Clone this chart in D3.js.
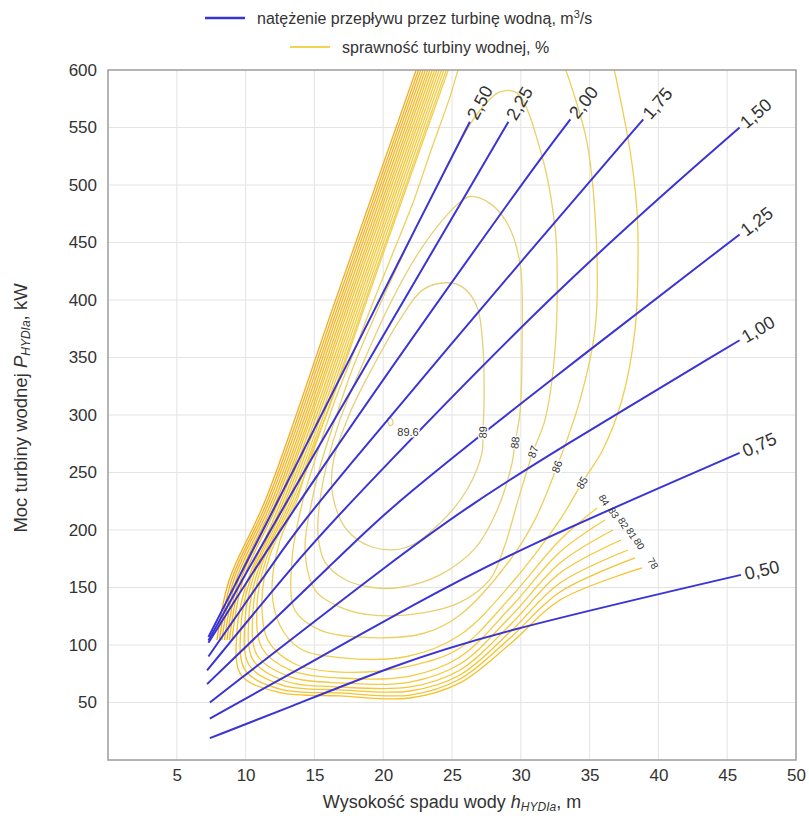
<!DOCTYPE html>
<html lang="pl">
<head>
<meta charset="utf-8">
<title>Moc turbiny wodnej</title>
<script src="https://cdn.jsdelivr.net/npm/d3@7/dist/d3.min.js"></script>
<style>
  html, body { margin: 0; padding: 0; background: #fff; }
  svg text { font-family: "Liberation Sans", Arial, Helvetica, sans-serif; fill: #333; }
</style>
</head>
<body>
<svg id="chart" width="809" height="819"></svg>
<script>
// ---- axis ticks ----
const xTicks = [5, 10, 15, 20, 25, 30, 35, 40, 45, 50];
const yTicks = [50, 100, 150, 200, 250, 300, 350, 400, 450, 500, 550, 600];

// ---- flow-rate lines: [head h (m), power P (kW)] ----
const flowLabels = ["0,50", "0,75", "1,00", "1,25", "1,50", "1,75", "2,00", "2,25", "2,50"];
const flow050 = [[7.4, 19], [13.2, 46], [20.5, 81], [27.8, 110], [46.0, 161]];
const flow075 = [[7.4, 36], [14.0, 80], [22.5, 137], [29.2, 180], [45.9, 267]];
const flow100 = [[7.4, 50], [21.4, 180], [26.5, 223], [32.1, 266], [45.9, 365]];
const flow125 = [[7.2, 66], [17.1, 180], [20.9, 224], [32.1, 330], [45.9, 457]];
const flow150 = [[7.2, 78], [14.2, 180], [17.6, 224], [32.8, 413], [45.9, 550]];
const flow175 = [[7.3, 90], [12.5, 180], [15.2, 224], [32.1, 463], [38.9, 557]];
const flow200 = [[7.3, 102], [13.8, 226], [30.2, 504], [33.6, 557]];
const flow225 = [[7.3, 104], [13.0, 226], [26.6, 504], [29.1, 555]];
const flow250 = [[7.3, 107], [12.4, 226], [24.1, 504], [26.3, 555]];
const flowSeries = [flow050, flow075, flow100, flow125, flow150, flow175, flow200, flow225, flow250];

// ---- turbine efficiency contours (%): [h, P] ----
const eff896 = [[20.35, 297], [20.6, 297], [20.7, 292], [20.45, 291]];
const eff89 = [[24.64, 415], [25.80, 411], [26.82, 394], [27.25, 359], [27.33, 313], [27.25, 285], [27.18, 267],
  [26.09, 235], [24.13, 206], [21.73, 185], [19.26, 185], [17.37, 200], [16.35, 229], [16.35, 258],
  [17.59, 302], [19.26, 342], [21.22, 383], [22.89, 409]];
const eff88 = [[26.31, 490], [27.76, 484], [29.00, 467], [29.94, 432], [30.09, 359], [29.94, 302], [29.58, 276],
  [29.36, 258], [28.27, 217], [26.67, 184], [24.13, 161], [21.22, 150], [19.26, 150], [17.22, 157],
  [15.77, 172], [15.26, 196], [15.41, 226], [15.92, 258], [16.86, 296], [18.31, 339], [20.64, 400],
  [22.67, 443], [24.64, 474], [25.58, 485]];
const eff87 = [[28.49, 581], [29.72, 580], [31.61, 522], [32.49, 463], [32.63, 435], [32.49, 357], [31.76, 296],
  [30.89, 268], [29.80, 226], [28.85, 187], [27.76, 157], [25.58, 137], [22.89, 128], [19.26, 126],
  [16.86, 133], [15.04, 148], [14.32, 183], [14.83, 226], [15.48, 258], [16.50, 296], [17.73, 339],
  [19.91, 400], [21.95, 452], [23.40, 487], [25.22, 530], [27.03, 565]];
const eff86 = [[25.65, 609], [25.36, 597], [24.78, 574], [23.47, 530], [22.24, 487], [20.78, 443], [19.33, 400],
  [17.95, 357], [16.50, 313], [14.97, 258], [14.17, 226], [13.37, 174], [13.59, 130], [15.41, 113],
  [18.10, 107], [22.89, 110], [25.58, 126.1], [29.22, 173.9], [31.03, 209], [32.63, 255], [34.30, 313],
  [35.39, 374], [35.54, 435], [34.81, 537], [33.36, 597], [32.99, 609]];
const eff85 = [[25.00, 609], [24.64, 597], [21.37, 487], [18.82, 400], [16.28, 313], [14.53, 258], [13.74, 226],
  [12.50, 191], [11.92, 148], [12.50, 117], [13.95, 97], [16.86, 89], [21.73, 90], [25.58, 108.7],
  [29.22, 152.2], [32.85, 209], [34.45, 241], [35.97, 270], [37.35, 313], [38.30, 374],
  [38.52, 435], [38.44, 478], [37.94, 530], [36.85, 597], [36.63, 609]];
const eff84 = [[24.85, 609], [18.71, 400], [13.61, 226], [11.77, 178], [11.19, 139], [11.63, 104], [13.59, 83.5],
  [16.86, 76.5], [21.95, 81.7], [25.58, 97.4], [29.22, 140.9], [32.85, 191.3], [35.54, 219.1]];
const eff83 = [[24.67, 609], [18.55, 400], [13.44, 226], [11.48, 174], [10.83, 135], [11.19, 97.4], [13.23, 78.3],
  [16.86, 71.3], [21.95, 73], [25.58, 89.6], [29.22, 132.2], [32.85, 180.9], [36.12, 208.7]];
const eff82 = [[24.50, 609], [18.38, 400], [13.28, 226], [11.19, 170], [10.54, 130], [10.83, 91.3], [13.08, 73],
  [16.86, 67], [21.95, 67.8], [25.58, 83.5], [29.22, 124.3], [32.85, 171.3], [36.70, 200]];
const eff81 = [[24.33, 609], [18.21, 400], [13.11, 226], [10.90, 165], [10.25, 126], [10.54, 87], [12.86, 68.7],
  [16.86, 63.5], [21.95, 63.5], [25.58, 78.3], [29.22, 117.4], [32.85, 162.6], [37.28, 191.3]];
const eff80 = [[24.16, 609], [18.05, 400], [12.94, 226], [10.61, 161], [9.96, 122], [10.25, 82.6], [12.65, 65.2],
  [16.86, 60.9], [21.95, 60], [25.58, 73.9], [29.22, 111.3], [32.85, 153.9], [37.79, 182.6]];
const eff79 = [[24.00, 609], [17.88, 400], [12.78, 226], [10.32, 156.5], [9.67, 117.4], [9.96, 78.3], [12.50, 61.7],
  [16.86, 58.3], [21.95, 56.5], [25.58, 70.4], [29.22, 106.1], [32.85, 146.1], [38.30, 175.7]];
const eff78 = [[23.83, 609], [17.70, 400], [12.61, 226], [10.03, 152], [9.38, 113], [9.67, 74], [12.35, 59.1],
  [16.86, 55.7], [21.95, 53.9], [25.58, 67], [29.22, 100.9], [32.85, 139.1], [38.81, 167]];
const eff77 = [[23.66, 609], [17.54, 400], [12.44, 226], [9.81, 156.5], [9.01, 104.3]];
const eff76 = [[23.50, 609], [17.38, 400], [12.27, 226], [9.64, 156.5], [8.83, 104.3]];
const eff75 = [[23.33, 609], [17.21, 400], [12.11, 226], [9.48, 156.5], [8.65, 104.3]];
const eff74 = [[23.16, 609], [17.04, 400], [11.94, 226], [9.31, 156.5], [8.47, 104.3]];
const eff73 = [[22.99, 609], [16.88, 400], [11.77, 226], [9.14, 156.5], [8.28, 104.3]];
const eff72 = [[22.83, 609], [16.71, 400], [11.61, 226], [8.98, 156.5], [8.10, 104.3]];
const eff71 = [[22.66, 609], [16.54, 400], [11.44, 226], [8.81, 156.5], [7.92, 104.3]];

const effLevels = [89.6, 89, 88, 87, 86, 85, 84, 83, 82, 81, 80, 79, 78, 77, 76, 75, 74, 73, 72, 71];
const effSeries = [eff896, eff89, eff88, eff87, eff86, eff85, eff84, eff83, eff82, eff81, eff80, eff79, eff78,
  eff77, eff76, eff75, eff74, eff73, eff72, eff71];
const effClosed = [true, true, true, true];   // the four innermost contours are closed loops

// contour labels: text and anchor [h, P]
const effLabelText = ["89.6", "89", "88", "87", "86", "85"];
const effLabelAt = [[21.8, 285], [27.25, 285], [29.58, 276], [30.89, 268], [32.63, 255], [34.45, 241]];
const effEndText = ["84", "83", "82", "81", "80", "78"];
const effEndAt = [[36.05, 226], [36.75, 215], [37.45, 206], [38.05, 197], [38.6, 188], [39.6, 171]];

// ---- drawing ----
const svg = d3.select("#chart");
const box = { left: 108, top: 70, right: 796, bottom: 760 };
const x = d3.scaleLinear().domain([0, 50]).range([box.left, box.right]);
const y = d3.scaleLinear().domain([0, 600]).range([box.bottom, box.top]);

svg.append("defs").append("clipPath").attr("id", "plotClip")
  .append("rect").attr("x", box.left).attr("y", box.top)
  .attr("width", box.right - box.left).attr("height", box.bottom - box.top);

// grid
const grid = svg.append("g").attr("stroke", "#e4e4e4").attr("stroke-width", 1);
grid.selectAll(".gx").data(xTicks.filter(t => t < 50)).join("line")
  .attr("x1", d => x(d)).attr("x2", d => x(d)).attr("y1", y(0)).attr("y2", y(600));
grid.selectAll(".gy").data(yTicks.filter(t => t < 600)).join("line")
  .attr("x1", x(0)).attr("x2", x(50)).attr("y1", d => y(d)).attr("y2", d => y(d));

// efficiency contours
const effColor = d3.scaleLinear().domain([71, 78, 84, 87, 89.6])
  .range(["#f3ad1f", "#f5c12c", "#f3cd45", "#ead06a", "#e4d080"]);
const lineOpen = d3.line().x(d => x(d[0])).y(d => y(d[1])).curve(d3.curveCatmullRom.alpha(0.5));
const lineClosed = d3.line().x(d => x(d[0])).y(d => y(d[1])).curve(d3.curveCatmullRomClosed.alpha(0.5));
svg.append("g").attr("clip-path", "url(#plotClip)")
  .selectAll("path").data(effSeries).join("path")
  .attr("d", (d, i) => (effClosed[i] ? lineClosed : lineOpen)(d))
  .attr("fill", "none")
  .attr("stroke", (d, i) => effColor(effLevels[i]))
  .attr("stroke-width", 1.3);

// flow-rate lines (smoothed B-spline through the read points)
const flowLine = d3.line().x(d => x(d[0])).y(d => y(d[1])).curve(d3.curveBasis);
svg.append("g").selectAll("path").data(flowSeries).join("path")
  .attr("d", flowLine)
  .attr("fill", "none")
  .attr("stroke", "#3b34d4")
  .attr("stroke-width", 2);

// flow-rate labels at line ends, rotated along the last segment
svg.append("g").selectAll("text").data(flowSeries).join("text")
  .each(function (d, i) {
    const a = d[d.length - 2], b = d[d.length - 1];
    const dx = x(b[0]) - x(a[0]), dy = y(b[1]) - y(a[1]);
    const ang = Math.atan2(dy, dx) * 180 / Math.PI;
    d3.select(this)
      .attr("transform", `translate(${x(b[0])},${y(b[1])}) rotate(${ang})`)
      .attr("x", 4).attr("dy", "0.35em")
      .attr("font-size", 18)
      .text(flowLabels[i]);
  });

// inline contour labels, rotated along the contour
function segAngle(series, p) {
  let best = 0, bd = Infinity;
  series.forEach((q, k) => {
    const dd = (x(q[0]) - x(p[0])) ** 2 + (y(q[1]) - y(p[1])) ** 2;
    if (dd < bd) { bd = dd; best = k; }
  });
  const a = series[Math.max(0, best - 1)], b = series[Math.min(series.length - 1, best + 1)];
  let ang = Math.atan2(y(b[1]) - y(a[1]), x(b[0]) - x(a[0])) * 180 / Math.PI;
  if (ang > 90) ang -= 180;
  if (ang < -90) ang += 180;
  return ang;
}
svg.append("g").selectAll("text").data(effLabelAt).join("text")
  .attr("transform", (d, i) => {
    const ang = i === 0 ? 0 : segAngle(effSeries[i], d);
    return `translate(${x(d[0])},${y(d[1])}) rotate(${ang})`;
  })
  .attr("text-anchor", "middle").attr("dy", "0.35em")
  .attr("font-size", 11)
  .attr("stroke", "#fff").attr("stroke-width", 3).attr("paint-order", "stroke")
  .text((d, i) => effLabelText[i]);

svg.append("g").selectAll("text").data(effEndAt).join("text")
  .attr("transform", d => `translate(${x(d[0])},${y(d[1])}) rotate(58)`)
  .attr("text-anchor", "middle").attr("dy", "0.35em")
  .attr("font-size", 10)
  .text((d, i) => effEndText[i]);

// frame
svg.append("rect")
  .attr("x", box.left).attr("y", box.top)
  .attr("width", box.right - box.left).attr("height", box.bottom - box.top)
  .attr("fill", "none").attr("stroke", "#9c9c9c").attr("stroke-width", 1.5);

// axes
const ax = svg.append("g").attr("transform", `translate(0,${box.bottom})`)
  .call(d3.axisBottom(x).tickValues(xTicks).tickSize(0).tickPadding(9));
const ay = svg.append("g").attr("transform", `translate(${box.left},0)`)
  .call(d3.axisLeft(y).tickValues(yTicks).tickSize(0).tickPadding(11));
[ax, ay].forEach(g => {
  g.select(".domain").remove();
  g.selectAll("text").attr("font-size", 17).attr("fill", "#333")
    .attr("font-family", "'Liberation Sans', Arial, sans-serif");
});

// axis titles
const xt = svg.append("text").attr("x", (box.left + box.right) / 2).attr("y", 808)
  .attr("text-anchor", "middle").attr("font-size", 18);
xt.append("tspan").text("Wysokość spadu wody ");
xt.append("tspan").attr("font-style", "italic").text("h");
xt.append("tspan").attr("font-style", "italic").attr("font-size", 12).attr("dy", 3).text("HYDIa");
xt.append("tspan").attr("dy", -3).text(", m");

const yt = svg.append("text")
  .attr("transform", "translate(27,408) rotate(-90)")
  .attr("text-anchor", "middle").attr("font-size", 18.5);
yt.append("tspan").text("Moc turbiny wodnej ");
yt.append("tspan").attr("font-style", "italic").text("P");
yt.append("tspan").attr("font-style", "italic").attr("font-size", 12).attr("dy", 3).text("HYDIa");
yt.append("tspan").attr("dy", -3).text(", kW");

// legend
const lg = svg.append("g");
lg.append("line").attr("x1", 205).attr("x2", 245).attr("y1", 18).attr("y2", 18)
  .attr("stroke", "#3b34d4").attr("stroke-width", 2.5);
const l1 = lg.append("text").attr("x", 257).attr("y", 24).attr("font-size", 16);
l1.append("tspan").text("natężenie przepływu przez turbinę wodną, m");
l1.append("tspan").attr("font-size", 11).attr("dy", -6).text("3");
l1.append("tspan").attr("dy", 6).text("/s");
lg.append("line").attr("x1", 290).attr("x2", 330).attr("y1", 47).attr("y2", 47)
  .attr("stroke", "#f2d24e").attr("stroke-width", 2);
lg.append("text").attr("x", 342).attr("y", 53).attr("font-size", 16)
  .text("sprawność turbiny wodnej, %");
</script>
</body>
</html>
